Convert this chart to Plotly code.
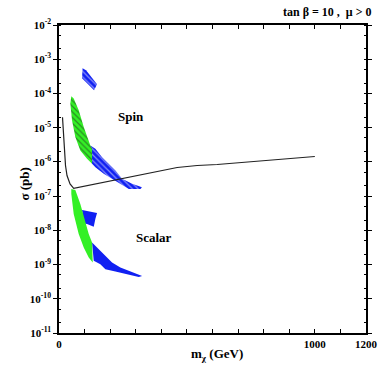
import numpy as np
import plotly.graph_objects as go

# ---- data (m_chi in GeV, log10 sigma in pb) ----
curve_m = [13.7, 19.6, 25.4, 31.3, 43.1, 57.5, 90.0, 142.1, 207.4, 272.8, 364.0, 461.9, 540.1, 618.4, 1000.0]
curve_logs = [-4.698, -5.460, -6.106, -6.399, -6.642, -6.771, -6.721, -6.642, -6.545, -6.449, -6.302, -6.164, -6.106, -6.076, -5.842]

spin_green_m = [48.1, 57.5, 77.1, 96.7, 122.5, 129.2, 129.2, 109.6, 83.4, 63.8, 50.9, 44.2]
spin_green_logs = [-4.082, -4.150, -4.493, -4.982, -5.519, -5.607, -6.056, -5.909, -5.666, -5.276, -4.786, -4.296]

spin_blue_m = [122.5, 142.1, 168.3, 200.8, 220.4, 246.6, 285.7, 324.9, 318.2, 272.8, 239.9, 207.4, 175.0, 142.1, 129.2]
spin_blue_logs = [-5.519, -5.616, -5.862, -6.106, -6.252, -6.496, -6.642, -6.742, -6.789, -6.789, -6.642, -6.496, -6.349, -6.155, -6.056]

spin_blue_top_m = [92.0, 105.7, 148.7, 137.0, 90.0]
spin_blue_top_logs = [-3.261, -3.320, -3.730, -3.906, -3.554]

scalar_green_m = [48.1, 63.8, 83.4, 102.9, 116.2, 129.2, 131.9, 116.2, 96.7, 77.1, 57.5, 48.1]
scalar_green_logs = [-6.789, -6.818, -7.229, -7.718, -8.109, -8.355, -8.941, -8.795, -8.501, -8.109, -7.522, -6.935]

scalar_blue_up_m = [90.0, 116.2, 148.7, 142.1, 135.8, 109.6, 96.7]
scalar_blue_up_logs = [-7.405, -7.446, -7.493, -7.669, -7.894, -7.815, -7.798]

scalar_blue_low_m = [129.2, 155.4, 181.2, 207.4, 239.9, 272.8, 324.9, 311.9, 259.5, 220.4, 181.2, 161.6, 135.8]
scalar_blue_low_logs = [-8.355, -8.548, -8.745, -8.941, -9.088, -9.185, -9.331, -9.361, -9.282, -9.205, -9.135, -8.988, -8.891]

y_exponents = [-2, -3, -4, -5, -6, -7, -8, -9, -10, -11]
x_tickvals = [0, 1000, 1200]
x_ticklabels = ["0", "1000", "1200"]

GREEN = "#33f025"
BLUE = "#1020f2"
SERIF = "Liberation Serif"

def pb(logs):
    return list(np.power(10.0, logs))

fig = go.Figure()

def region(m, logs, color, pattern=None):
    kw = dict(x=m, y=pb(logs), mode="lines", fill="toself", line=dict(width=0, color=color),
              fillcolor=color, hoverinfo="skip", showlegend=False)
    if pattern is not None:
        kw["fillpattern"] = dict(shape="\\", bgcolor=color, fgcolor=pattern, size=4, solidity=0.3)
    fig.add_trace(go.Scatter(**kw))

region(spin_blue_top_m, spin_blue_top_logs, BLUE, "white")
region(spin_blue_m, spin_blue_logs, BLUE, "white")
region(spin_green_m, spin_green_logs, GREEN, "#222222")
region(scalar_blue_up_m, scalar_blue_up_logs, BLUE)
region(scalar_blue_low_m, scalar_blue_low_logs, BLUE)
region(scalar_green_m, scalar_green_logs, GREEN)

fig.add_trace(go.Scatter(x=curve_m, y=pb(curve_logs), mode="lines",
                         line=dict(color="#222222", width=1.2), showlegend=False, hoverinfo="skip"))

fig.update_layout(
    width=379, height=382,
    margin=dict(l=59, r=13, t=25, b=49, autoexpand=False),
    plot_bgcolor="white", paper_bgcolor="white",
    font=dict(family=SERIF, color="black"),
)
fig.update_xaxes(range=[0, 1200], tickvals=x_tickvals,
                 ticktext=["<b>%s</b>" % t for t in x_ticklabels],
                 ticks="inside", ticklen=4, tickcolor="black", showgrid=False, zeroline=False,
                 showline=True, linecolor="black", linewidth=1.5, mirror="ticks", automargin=False,
                 minor=dict(dtick=100, ticks="inside", ticklen=4, tickcolor="black", showgrid=False),
                 tickfont=dict(family=SERIF, size=11, color="black"))
fig.update_yaxes(type="log", range=[-11, -2],
                 tickvals=[10.0 ** e for e in y_exponents],
                 ticktext=["<b>10<sup>%d</sup></b>" % e for e in y_exponents],
                 ticks="outside", ticklen=4, tickcolor="black", showgrid=False, zeroline=False,
                 showline=True, linecolor="black", linewidth=1.5, mirror="ticks", automargin=False,
                 minor=dict(ticks="inside", ticklen=2, tickcolor="black", showgrid=False),
                 tickfont=dict(family=SERIF, size=11, color="black"))

fig.add_annotation(x=281.8, y=-4.669, xref="x", yref="y", text="<b>Spin</b>", showarrow=False,
                   font=dict(family=SERIF, size=13, color="black"))
fig.add_annotation(x=371.8, y=-8.217, xref="x", yref="y", text="<b>Scalar</b>", showarrow=False,
                   font=dict(family=SERIF, size=13, color="black"))
fig.add_annotation(x=1.023, y=1.042, xref="paper", yref="paper", xanchor="right", yanchor="middle",
                   text="<b>tan β = 10 ,  μ > 0</b>", showarrow=False,
                   font=dict(family=SERIF, size=12, color="black"))
fig.add_annotation(x=-0.143, y=0.484, xref="paper", yref="paper", textangle=-90,
                   text="<b>σ (pb)</b>", showarrow=False,
                   font=dict(family=SERIF, size=13, color="black"))
fig.add_annotation(x=0.515, y=-0.104, xref="paper", yref="paper",
                   text="<b>m<sub>χ</sub> (GeV)</b>", showarrow=False,
                   font=dict(family=SERIF, size=13, color="black"))

fig.write_html("out.html", config={"displayModeBar": False},
               post_script="document.body.style.margin='0';document.body.style.overflow='hidden';")
